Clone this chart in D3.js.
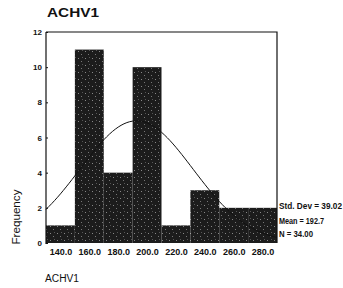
<!DOCTYPE html>
<html><head><meta charset="utf-8">
<script src="https://cdn.jsdelivr.net/npm/d3@7"></script>
<style>body{margin:0;background:#fff}svg{display:block}</style>
</head><body>
<script>
const binCenters = [140, 160, 180, 200, 220, 240, 260, 280];
const frequencies = [1, 11, 4, 10, 1, 3, 2, 2];
const xTickLabels = ["140.0","160.0","180.0","200.0","220.0","240.0","260.0","280.0"];
const yTicks = [0, 2, 4, 6, 8, 10, 12];
const statLabels = ["Std. Dev = 39.02", "Mean = 192.7", "N = 34.00"];
const stdDev = 39.02, mean = 192.7, nCases = 34, binWidth = 20;

const W = 343, H = 288;
const FONT = "Arial, Liberation Sans, sans-serif";
const svg = d3.select("body").append("svg").attr("width", W).attr("height", H);
const x = d3.scaleLinear().domain([130, 290]).range([46, 277]);
const y = d3.scaleLinear().domain([0, 12]).range([243, 32]);

const defs = svg.append("defs");
const pat = defs.append("pattern").attr("id","tex").attr("patternUnits","userSpaceOnUse").attr("width",7).attr("height",7);
pat.append("rect").attr("width",7).attr("height",7).attr("fill","#1c1c1c");
pat.append("rect").attr("x",1).attr("y",2).attr("width",1).attr("height",1).attr("fill","#888");
pat.append("rect").attr("x",4).attr("y",5).attr("width",1).attr("height",1).attr("fill","#777");
pat.append("rect").attr("x",5).attr("y",1).attr("width",1).attr("height",1).attr("fill","#555");

svg.append("text").attr("x",47).attr("y",17).attr("font-family",FONT)
  .attr("font-size",12.6).attr("font-weight","bold").attr("fill","#111")
  .attr("textLength",52).attr("lengthAdjust","spacingAndGlyphs").text("ACHV1");

svg.selectAll("rect.bar").data(binCenters).enter().append("rect").attr("class","bar")
  .attr("x", d => x(d - binWidth/2)).attr("width", d => x(d + binWidth/2) - x(d - binWidth/2))
  .attr("y", (d,i) => y(frequencies[i])).attr("height", (d,i) => y(0) - y(frequencies[i]))
  .attr("fill","url(#tex)");

svg.append("path").attr("d", `M${x(130)},${y(12)}H${x(290)}V${y(0)}`).attr("fill","none").attr("stroke","#111").attr("stroke-width",1.2);
svg.append("line").attr("x1",x(130)).attr("x2",x(130)).attr("y1",y(12)).attr("y2",y(0)+1).attr("stroke","#111").attr("stroke-width",1.2);

const peak = nCases * binWidth / (stdDev * Math.sqrt(2*Math.PI));
const curvePts = d3.range(130, 290.1, 2).map(v => [v, peak * Math.exp(-0.5*((v-mean)/stdDev)**2)]);
svg.append("path").datum(curvePts).attr("d", d3.line().x(d=>x(d[0])).y(d=>y(d[1])).curve(d3.curveBasis))
  .attr("fill","none").attr("stroke","#111").attr("stroke-width",1);

const yAxis = d3.axisLeft(y).tickValues(yTicks).tickSize(-2).tickPadding(4).tickFormat(d3.format("d"));
const ga = svg.append("g").attr("transform",`translate(${x(130)},0)`).call(yAxis);
ga.select(".domain").remove();
ga.selectAll("text").attr("font-family",FONT).attr("font-size",8).attr("font-weight","bold").attr("fill","#111");
ga.selectAll("line").attr("stroke","#111");

const xAxis = d3.axisBottom(x).tickValues(binCenters).tickSize(0).tickPadding(6).tickFormat((d,i)=>xTickLabels[i]);
const gx = svg.append("g").attr("transform",`translate(0,${y(0)})`).call(xAxis);
gx.select(".domain").remove();
gx.selectAll("text").attr("font-family",FONT).attr("font-size",9).attr("font-weight","bold").attr("fill","#111");

svg.append("text").attr("transform","translate(20,217) rotate(-90)").attr("text-anchor","middle")
  .attr("font-family",FONT).attr("font-size",11).attr("fill","#111")
  .attr("textLength",55).attr("lengthAdjust","spacingAndGlyphs").text("Frequency");

svg.append("text").attr("x",45).attr("y",282).attr("font-family",FONT)
  .attr("font-size",10).attr("fill","#111")
  .attr("textLength",34).attr("lengthAdjust","spacingAndGlyphs").text("ACHV1");

svg.selectAll("text.stat").data(statLabels).enter().append("text").attr("class","stat")
  .attr("x",279).attr("y",(d,i)=>[209,224,237][i]).attr("font-family",FONT)
  .attr("font-size",8.5).attr("font-weight","bold").attr("fill","#111")
  .attr("textLength",(d,i)=>[63,45,34][i]).attr("lengthAdjust","spacingAndGlyphs").text(d=>d);
</script>
</body></html>
